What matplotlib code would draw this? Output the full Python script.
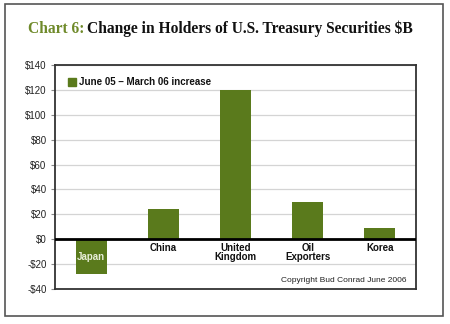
import matplotlib.pyplot as plt
from matplotlib.patches import Rectangle

# Change in holdings, June 05 - March 06, $ billions
holders = ['Japan', 'China', 'United\nKingdom', 'Oil\nExporters', 'Korea']
change = [-28, 24, 120, 30, 9]
yticks = [-40, -20, 0, 20, 40, 60, 80, 100, 120, 140]

green = '#5a7a1c'
sans = ['Liberation Sans', 'DejaVu Sans']

fig = plt.figure(figsize=(4.5, 3.24), dpi=100)
W, H = 450, 324

# outer border
fig.patches.append(Rectangle((5 / W, 1 - 316 / H), 438 / W, 312 / H,
                             transform=fig.transFigure, fill=False,
                             edgecolor='#555555', linewidth=1.2))

# title: green prefix + black rest
t1 = fig.text(28 / W, 1 - 29 / H, 'Chart 6:', color='#6f8a2a', fontsize=11.2,
              fontweight='bold', family='Liberation Serif', va='center')
fig.canvas.draw()
bb = t1.get_window_extent()
fig.text(bb.x1 / W + 3 / W, 1 - 29 / H,
         'Change in Holders of U.S. Treasury Securities $B', color='#111111',
         fontsize=11.2, fontweight='bold', family='Liberation Serif', va='center')

ax = fig.add_axes([55 / W, 1 - 289 / H, 361 / W, 224 / H])
x = range(len(holders))
ax.bar(x, change, width=0.43, color=green, zorder=3)
ax.set_xlim(-0.5, len(holders) - 0.5)
ax.set_ylim(-40, 140)
ax.set_yticks(yticks)
ax.set_yticklabels([f'-${-v}' if v < 0 else f'${v}' for v in yticks],
                   family=sans, fontsize=7, color='#222222')
ax.set_xticks([])
ax.tick_params(axis='y', length=3, color='#888888', pad=3)
ax.grid(axis='y', color='#d4d4d4', linewidth=0.9, zorder=0)
ax.axhline(0, color='black', linewidth=2, zorder=4)
for s in ax.spines.values():
    s.set_color('#333333')
    s.set_linewidth(1.3)

# category labels: inside the bar for negatives, under the zero line otherwise
for i, (name, v) in enumerate(zip(holders, change)):
    if v < 0:
        ax.text(i, v / 2, name, ha='center', va='center', color='#e8eed8',
                fontsize=7, fontweight='bold', family=sans, zorder=5)
    else:
        ax.text(i, -3, name, ha='center', va='top', color='#111111',
                fontsize=7, fontweight='bold', family=sans,
                linespacing=0.85, zorder=5)

# legend
ax.add_patch(Rectangle((0.035, 0.905), 0.022, 0.035, transform=ax.transAxes,
                       color=green, zorder=5))
ax.text(0.066, 0.922, 'June 05 \u2013 March 06 increase', transform=ax.transAxes,
        fontsize=7, fontweight='bold', family=sans, va='center', color='#111111')

ax.text(0.975, -33, 'Copyright Bud Conrad June 2006',
        transform=ax.get_yaxis_transform(), ha='right', va='center',
        fontsize=6, family=sans, color='#222222')

fig.savefig('out.png', dpi=100)
